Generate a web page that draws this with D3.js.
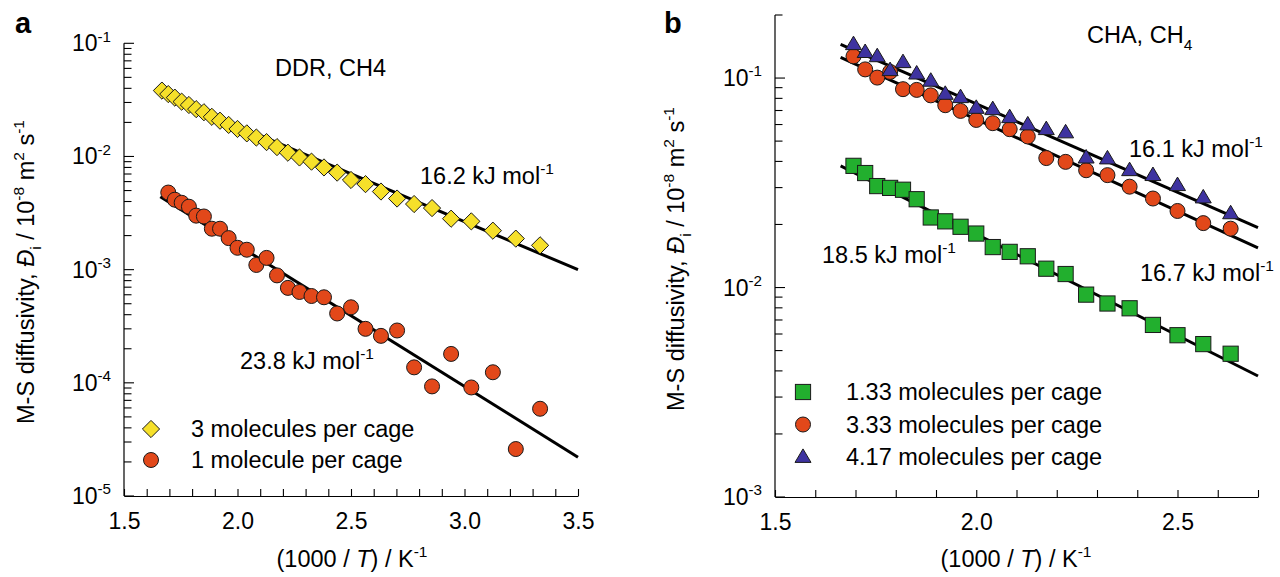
<!DOCTYPE html>
<html><head><meta charset="utf-8">
<script src="https://cdn.jsdelivr.net/npm/d3@7"></script>
<style>
body{margin:0;background:#fff}
text{font-family:"Liberation Sans",Arial,Helvetica,sans-serif;fill:#000}
</style>
</head><body>
<svg id="chart" width="1280" height="577"></svg>
<script>
// ---------- data: panel a (DDR, CH4) ----------
const xA3 = [1.667,1.695,1.724,1.754,1.786,1.818,1.852,1.887,1.923,1.961,2.000,2.041,2.083,2.128,2.174,2.222,2.273,2.326,2.381,2.439,2.500,2.564,2.632,2.703,2.778,2.857,2.941,3.030,3.125,3.226,3.333];
const yA3 = [0.0382,0.0356,0.0331,0.0305,0.0285,0.0262,0.0246,0.0224,0.0207,0.0190,0.0175,0.0160,0.0147,0.0134,0.0121,0.0108,0.0098,0.0090,0.0080,0.0072,0.0062,0.0057,0.0049,0.00425,0.0038,0.0035,0.00282,0.00267,0.00221,0.00188,0.00164];
const xA1 = [1.695,1.724,1.754,1.786,1.818,1.852,1.887,1.923,1.961,2.000,2.041,2.083,2.128,2.174,2.222,2.273,2.326,2.381,2.439,2.500,2.564,2.632,2.703,2.778,2.857,2.941,3.030,3.125,3.226,3.333];
const yA1 = [4.8e-3,4.15e-3,3.9e-3,3.6e-3,3.0e-3,2.95e-3,2.3e-3,2.3e-3,1.9e-3,1.56e-3,1.5e-3,1.1e-3,1.27e-3,8.9e-4,6.9e-4,6.35e-4,5.85e-4,5.7e-4,4.1e-4,4.65e-4,3.0e-4,2.6e-4,2.9e-4,1.37e-4,9.3e-5,1.8e-4,9.1e-5,1.24e-4,2.6e-5,5.9e-5];
const fitA3 = [[1.66,0.0361],[3.5,1.0e-3]];
const fitA1 = [[1.66,4.4e-3],[3.5,2.2e-5]];

// ---------- data: panel b (CHA, CH4) ----------
const xB = [1.695,1.724,1.754,1.786,1.818,1.852,1.887,1.923,1.961,2.000,2.041,2.083,2.128,2.174,2.222,2.273,2.326,2.381,2.439,2.500,2.564,2.632];
const yB133 = [0.0381,0.0352,0.0305,0.0299,0.0293,0.0264,0.0216,0.0207,0.0195,0.0181,0.0156,0.0148,0.0141,0.0123,0.0116,0.00925,0.00839,0.00796,0.00663,0.00592,0.00537,0.00483];
const yB333 = [0.127,0.110,0.1005,0.107,0.0885,0.0878,0.0827,0.0742,0.0697,0.0631,0.0609,0.0570,0.0526,0.0415,0.0398,0.0363,0.0344,0.0303,0.0266,0.0232,0.0203,0.0191];
const yB417 = [0.145,0.133,0.127,0.109,0.119,0.105,0.097,0.084,0.081,0.072,0.071,0.065,0.060,0.057,0.055,0.0417,0.0413,0.0363,0.0344,0.0308,0.0269,0.0226];
const fitB417 = [[1.663,0.145],[2.70,0.0193]];
const fitB333 = [[1.663,0.1256],[2.70,0.01546]];
const fitB133 = [[1.663,0.0381],[2.70,0.00378]];

const xTicksA = [1.5,2.0,2.5,3.0,3.5];
const xTicksB = [1.5,2.0,2.5];
const yMajorA = [-5,-4,-3,-2,-1];
const yMajorB = [-3,-2,-1];

const legendA = ["3 molecules per cage","1 molecule per cage"];
const legendB = ["1.33 molecules per cage","3.33 molecules per cage","4.17 molecules per cage"];

// ---------- styles ----------
const C = {yellow:"#F6E02A", red:"#E2481A", green:"#22AF2E", blue:"#3E33A0", edge:"#1a1a1a"};
const FS = 23.5;   // legend / annotation / titles
const FT = 23;     // tick labels

const svg = d3.select("#chart");

function rich(g, x, y, parts, size, anchor, rot){
  const t = g.append("text").attr("x",x).attr("y",y).attr("font-size",size)
    .attr("text-anchor",anchor||"start");
  if(rot) t.attr("transform",`rotate(${rot},${x},${y})`);
  let cur = 0;
  parts.forEach(p=>{
    const kind = p[1]||"n";
    let off = 0, fs = size;
    if(kind==="sup"){off = -0.42*size; fs = 0.66*size;}
    if(kind==="sub"){off = 0.28*size; fs = 0.66*size;}
    const ts = t.append("tspan").text(p[0]).attr("font-size",fs);
    if(off-cur!==0) ts.attr("dy",off-cur);
    cur = off;
    if(kind==="i") ts.attr("font-style","italic");
  });
  return t;
}

function marker(g, type, cx, cy, color){
  if(type==="circle"){
    g.append("circle").attr("cx",cx).attr("cy",cy).attr("r",7.5)
      .attr("fill",color).attr("stroke",C.edge).attr("stroke-width",1);
  } else if(type==="diamond"){
    const r=8.6;
    g.append("path").attr("d",`M${cx},${cy-r}L${cx+r},${cy}L${cx},${cy+r}L${cx-r},${cy}Z`)
      .attr("fill",color).attr("stroke",C.edge).attr("stroke-width",1);
  } else if(type==="square"){
    const h=7.6;
    g.append("rect").attr("x",cx-h).attr("y",cy-h).attr("width",2*h).attr("height",2*h)
      .attr("fill",color).attr("stroke",C.edge).attr("stroke-width",1);
  } else if(type==="triangle"){
    const w=8, ht=13.5;
    g.append("path").attr("d",`M${cx},${cy-ht*0.6}L${cx+w},${cy+ht*0.4}L${cx-w},${cy+ht*0.4}Z`)
      .attr("fill",color).attr("stroke",C.edge).attr("stroke-width",1);
  }
}

function panel(cfg){
  const g = svg.append("g");
  const x = d3.scaleLinear().domain(cfg.xDom).range(cfg.xRange);
  const y = d3.scaleLog().domain(cfg.yDom).range(cfg.yRange);
  const x0 = cfg.xRange[0], y0 = cfg.yRange[0];

  g.append("line").attr("x1",x0).attr("x2",x0).attr("y1",cfg.yRange[1]).attr("y2",y0)
    .attr("stroke","#000").attr("stroke-width",1.2);
  const xTickVals = d3.range(Math.round(cfg.xDom[0]*10), Math.round(cfg.xDom[1]*10)+1).map(v=>v/10);
  const xAxis = d3.axisBottom(x).tickValues(xTickVals).tickSizeInner(-7).tickSizeOuter(0)
    .tickPadding(17)
    .tickFormat(d=> cfg.xTicks.some(t=>Math.abs(t-d)<1e-6) ? d3.format(".1f")(d) : "");
  const ax = g.append("g").attr("transform",`translate(0,${y0})`).call(xAxis);
  ax.select(".domain").attr("stroke","#000").attr("stroke-width",1.2);
  ax.selectAll(".tick line").attr("stroke","#000").attr("stroke-width",1.1);
  ax.selectAll("text").attr("font-size",FT).attr("font-family",null).attr("fill","#000");

  const lo = Math.log10(cfg.yDom[0]), hi = Math.log10(cfg.yDom[1]);
  for(let e=Math.floor(lo); e<=Math.ceil(hi); e++){
    for(let m=1;m<=9;m++){
      const v = m*Math.pow(10,e);
      if(v < cfg.yDom[0]*0.999 || v > cfg.yDom[1]*1.001) continue;
      const len = m===1 ? 10 : 7.5;
      g.append("line").attr("x1",x0).attr("x2",x0+len).attr("y1",y(v)).attr("y2",y(v))
        .attr("stroke","#000").attr("stroke-width",1.1);
    }
  }
  cfg.yMajor.forEach(e=>{
    rich(g, x0-13, y(Math.pow(10,e))+8, [["10"],[String(e),"sup"]], FT, "end");
  });

  const line = d3.line().x(d=>x(d[0])).y(d=>y(d[1]));
  cfg.fits.forEach(f=>{
    g.append("path").attr("d",line(f)).attr("fill","none").attr("stroke","#000").attr("stroke-width",3);
  });
  cfg.series.forEach(s=>{
    s.x.forEach((xv,i)=> marker(g, s.type, x(xv), y(s.y[i]), s.color));
  });
  return {g,x,y};
}

const pa = panel({
  xDom:[1.5,3.5], xRange:[124,578], yDom:[1e-5,1e-1], yRange:[496,43.3],
  xTicks:xTicksA, yMajor:yMajorA,
  fits:[fitA3, fitA1],
  series:[{x:xA3,y:yA3,type:"diamond",color:C.yellow},{x:xA1,y:yA1,type:"circle",color:C.red}]
});
const pb = panel({
  xDom:[1.5,2.7], xRange:[775,1258], yDom:[1e-3,0.2], yRange:[497,15],
  xTicks:xTicksB, yMajor:yMajorB,
  fits:[fitB417, fitB333, fitB133],
  series:[{x:xB,y:yB133,type:"square",color:C.green},{x:xB,y:yB333,type:"circle",color:C.red},{x:xB,y:yB417,type:"triangle",color:C.blue}]
});

svg.append("text").attr("x",15).attr("y",33).attr("font-size",29).attr("font-weight","bold").text("a");
svg.append("text").attr("x",664).attr("y",33).attr("font-size",29).attr("font-weight","bold").text("b");

const ga = pa.g;
rich(ga, 275, 76, [["DDR, CH4"]], FS);
rich(ga, 420, 184, [["16.2 kJ mol"],["-1","sup"]], FS);
rich(ga, 240, 369, [["23.8 kJ mol"],["-1","sup"]], FS);
const gb = pb.g;
rich(gb, 1087, 43, [["CHA, CH"],["4","sub"]], FS);
rich(gb, 1129, 157, [["16.1 kJ mol"],["-1","sup"]], FS);
rich(gb, 1140, 281, [["16.7 kJ mol"],["-1","sup"]], FS);
rich(gb, 822, 263, [["18.5 kJ mol"],["-1","sup"]], FS);

const legTypesA = [["diamond",C.yellow],["circle",C.red]];
legendA.forEach((t,i)=>{
  const yy = 429 + i*31;
  marker(ga, legTypesA[i][0], 151, yy, legTypesA[i][1]);
  rich(ga, 191, yy+8, [[t]], FS);
});
const legTypesB = [["square",C.green],["circle",C.red],["triangle",C.blue]];
legendB.forEach((t,i)=>{
  const yy = 392 + i*32.5;
  marker(gb, legTypesB[i][0], 803, yy, legTypesB[i][1]);
  rich(gb, 846, yy+8, [[t]], FS);
});

const yTitle = [["M-S diffusivity, "],["Đ","i"],["i","sub"],[" / 10"],["-8","sup"],[" m"],["2","sup"],[" s"],["-1","sup"]];
rich(svg, 34, 272, yTitle, FS, "middle", -90);
rich(svg, 684, 259, yTitle, FS, "middle", -90);
const xTitle = [["(1000 / "],["T","i"],[") / K"],["-1","sup"]];
rich(svg, 352, 567, xTitle, FS, "middle");
rich(svg, 1016, 567, xTitle, FS, "middle");
</script>
</body></html>
